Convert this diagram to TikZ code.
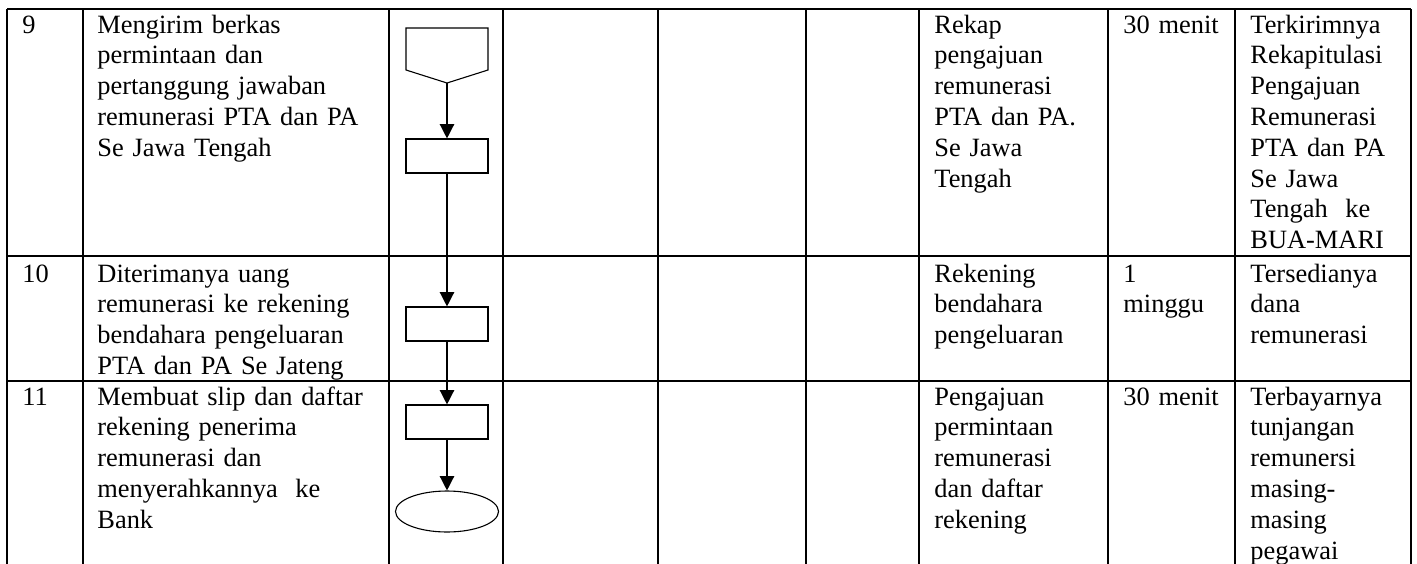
\documentclass[tikz,border=0pt]{standalone}
\usepackage{fontspec}
\setmainfont{Liberation Serif}
\usetikzlibrary{arrows.meta,positioning,shapes.geometric}
\newdimen\pxu \pxu=0.4545pt

\begin{document}
\begin{tikzpicture}[x=\pxu, y=-\pxu,
    gridline/.style={line width=0.8pt},
    cell/.style={anchor=base west, inner sep=0pt, align=left, text width=#1\pxu, font=\fontsize{12pt}{14pt}\selectfont},
    procbox/.style={draw, line width=0.5pt, minimum width=82\pxu, minimum height=34\pxu, inner sep=0pt},
    endbox/.style={draw, ellipse, line width=0.5pt, minimum width=103\pxu, minimum height=41\pxu, inner sep=0pt},
    flow/.style={-{Triangle[width=6.5pt,length=6.5pt]}, line width=0.6pt}]
    \useasboundingbox (0,0) rectangle (1417,564);
    % Table grid
    \foreach \x in {7,83,389,503,658,806,919,1108,1235,1411} {
        \draw[gridline] (\x,9) -- (\x,564);
    }
    \foreach \y in {9,256,381} {
        \draw[gridline] (7,\y) -- (1411,\y);
    }
    % Row 9
    \node[cell=55] (no9) at (22,33) {9};
    \node[cell=285] (act9) at (97,33) {Mengirim berkas\\permintaan dan\\pertanggung jawaban\\remunerasi PTA dan PA\\Se Jawa Tengah};
    \node[cell=175] (doc9) at (934,33) {Rekap\\pengajuan\\remunerasi\\PTA dan PA.\\Se Jawa\\Tengah};
    \node[cell=110] (time9) at (1123,33) {30 menit};
    \node[cell=160] (out9) at (1250,33) {Terkirimnya\\Rekapitulasi\\Pengajuan\\Remunerasi\\PTA dan PA\\Se Jawa\\Tengah~ ke\\BUA-MARI};
    % Row 10
    \node[cell=55] (no10) at (22,282) {10};
    \node[cell=285] (act10) at (97,282) {Diterimanya uang\\remunerasi ke rekening\\bendahara pengeluaran\\PTA dan PA Se Jateng};
    \node[cell=175] (doc10) at (934,282) {Rekening\\bendahara\\pengeluaran};
    \node[cell=110] (time10) at (1123,282) {1\\minggu};
    \node[cell=160] (out10) at (1250,282) {Tersedianya\\dana\\remunerasi};
    % Row 11
    \node[cell=55] (no11) at (22,405) {11};
    \node[cell=285] (act11) at (97,405) {Membuat slip dan daftar\\rekening penerima\\remunerasi dan\\menyerahkannya~ ke\\Bank};
    \node[cell=175] (doc11) at (934,405) {Pengajuan\\permintaan\\remunerasi\\dan daftar\\rekening};
    \node[cell=110] (time11) at (1123,405) {30 menit};
    \node[cell=160] (out11) at (1250,405) {Terbayarnya\\tunjangan\\remunersi\\masing-\\masing\\pegawai};
    % Flow symbols
    \draw[line width=0.5pt] (406,28) -- (488,28) -- (488,70) -- (447,83) -- (406,70) -- cycle;
    \coordinate (conn) at (447,83);
    \node[procbox] (p1) at (447,156) {};
    \node[procbox] (p2) at (447,324) {};
    \node[procbox] (p3) at (447,422) {};
    \node[endbox] (stop) at (447,511.5) {};
    \draw[flow] (conn) -- (p1);
    \draw[flow] (p1) -- (p2);
    \draw[flow] (p2) -- (p3);
    \draw[flow] (p3) -- (stop);
\end{tikzpicture}
\end{document}
